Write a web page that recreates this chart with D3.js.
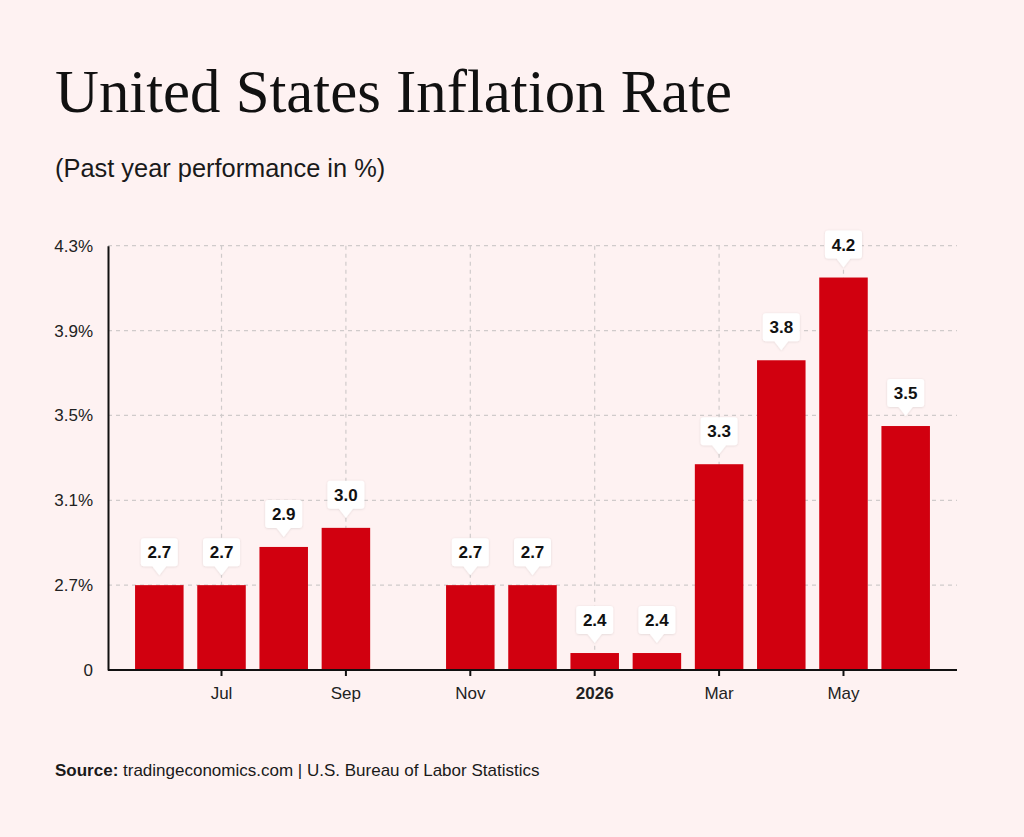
<!DOCTYPE html>
<html>
<head>
<meta charset="utf-8">
<script src="https://cdn.jsdelivr.net/npm/d3@7"></script>
<style>
  html, body { margin: 0; padding: 0; background: #fef2f2; }
  svg { display: block; }
</style>
</head>
<body>
<svg id="chart" width="1024" height="837"></svg>
<script>
// ---- Data ----
const months = ["2025-06","2025-07","2025-08","2025-09","2025-10","2025-11","2025-12",
                "2026-01","2026-02","2026-03","2026-04","2026-05","2026-06"];
const values = [2.70, 2.70, 2.88, 2.97, null, 2.70, 2.70, 2.38, 2.38, 3.27, 3.76, 4.15, 3.45];
const xTickMonths = ["2025-07","2025-09","2025-11","2026-01","2026-03","2026-05"];
const xTickLabels = ["Jul","Sep","Nov","2026","Mar","May"];
const yTickValues = [2.3, 2.7, 3.1, 3.5, 3.9, 4.3];
const yTickLabels = ["0","2.7%","3.1%","3.5%","3.9%","4.3%"];

const svg = d3.select("#chart");
const W = 1024, H = 837;
svg.append("rect").attr("width", W).attr("height", H).attr("fill", "#fef2f2");

const pLeft = 108, pRight = 957, pTop = 245.7, pBottom = 670;
const sans = "'Liberation Sans', Arial, Helvetica, sans-serif";

const x = d3.scaleBand().domain(months).range([pLeft, pRight])
  .paddingInner(0.22).paddingOuter(0.435);
const y = d3.scaleLinear().domain([2.3, 4.3]).range([pBottom, pTop]);

// Title / subtitle
svg.append("text").attr("x", 55).attr("y", 112)
  .attr("font-family", "'Liberation Serif', 'Times New Roman', serif")
  .attr("font-size", 60.8).attr("fill", "#111")
  .text("United States Inflation Rate");
svg.append("text").attr("x", 55).attr("y", 177)
  .attr("font-family", sans).attr("font-size", 25.4).attr("fill", "#1a1a1a")
  .text("(Past year performance in %)");

// Shadow filter
const defs = svg.append("defs");
const f = defs.append("filter").attr("id", "sh").attr("x", "-30%").attr("y", "-30%")
  .attr("width", "160%").attr("height", "160%");
f.append("feDropShadow").attr("dx", 0).attr("dy", 0.5).attr("stdDeviation", 1.2)
  .attr("flood-color", "#000").attr("flood-opacity", 0.12);

// Grid
const grid = svg.append("g");
grid.selectAll("line.h").data(yTickValues.slice(1)).join("line")
  .attr("x1", pLeft).attr("x2", pRight)
  .attr("y1", d => y(d)).attr("y2", d => y(d))
  .attr("stroke", "#d0cbcb").attr("stroke-width", 1.2).attr("stroke-dasharray", "4,4");
grid.selectAll("line.v").data(xTickMonths).join("line")
  .attr("x1", d => x(d) + x.bandwidth() / 2).attr("x2", d => x(d) + x.bandwidth() / 2)
  .attr("y1", pTop).attr("y2", pBottom)
  .attr("stroke", "#d0cbcb").attr("stroke-width", 1.2).attr("stroke-dasharray", "4,4");

// Bars
const data = months.map((m, i) => ({ m, v: values[i] })).filter(d => d.v != null);
svg.append("g").selectAll("rect").data(data).join("rect")
  .attr("x", d => x(d.m)).attr("width", x.bandwidth())
  .attr("y", d => y(d.v)).attr("height", d => pBottom - y(d.v))
  .attr("fill", "#d1000f");

// Axes
const yAxis = d3.axisLeft(y).tickValues(yTickValues)
  .tickFormat((d, i) => yTickLabels[i]).tickSize(0).tickPadding(15);
const gy = svg.append("g").attr("transform", `translate(${pLeft},0)`).call(yAxis);
gy.select(".domain").attr("stroke", "#111").attr("stroke-width", 2);
gy.selectAll("text").attr("font-family", sans).attr("font-size", 17).attr("fill", "#222");

const xAxis = d3.axisBottom(x).tickValues(xTickMonths)
  .tickFormat(d => xTickLabels[xTickMonths.indexOf(d)]).tickSize(6).tickPadding(11).tickSizeOuter(0);
const gx = svg.append("g").attr("transform", `translate(0,${pBottom})`).call(xAxis);
gx.select(".domain").attr("d", `M${pLeft},0H${pRight}`).attr("stroke", "#111").attr("stroke-width", 2);
gx.selectAll(".tick line").attr("stroke", "#111").attr("stroke-width", 2);
gx.selectAll("text").attr("font-family", sans).attr("font-size", 17).attr("fill", "#222")
  .attr("font-weight", d => d === "2026-01" ? "bold" : "normal");

// Callout labels
const bw = 37, bh = 28, rad = 3, pw = 7;
const lab = svg.append("g").selectAll("g").data(data).join("g")
  .attr("transform", d => `translate(${x(d.m) + x.bandwidth() / 2},${y(d.v)})`);
lab.append("path")
  .attr("d", () => {
    const t = -47, b = -19, l = -bw / 2, rr = bw / 2;
    return `M${l + rad},${t}H${rr - rad}Q${rr},${t} ${rr},${t + rad}V${b - rad}Q${rr},${b} ${rr - rad},${b}` +
           `H${pw}L0,-10L${-pw},${b}H${l + rad}Q${l},${b} ${l},${b - rad}V${t + rad}Q${l},${t} ${l + rad},${t}Z`;
  })
  .attr("fill", "#fff").attr("filter", "url(#sh)");
lab.append("text").attr("x", 0).attr("y", -27)
  .attr("text-anchor", "middle").attr("font-family", sans).attr("font-weight", "bold")
  .attr("font-size", 17).attr("fill", "#111")
  .text(d => d3.format(".1f")(d.v));

// Source
const src = svg.append("text").attr("x", 55).attr("y", 776)
  .attr("font-family", sans).attr("font-size", 17).attr("fill", "#1a1a1a");
src.append("tspan").attr("font-weight", "bold").text("Source:");
src.append("tspan").text(" tradingeconomics.com | U.S. Bureau of Labor Statistics");
</script>
</body>
</html>
